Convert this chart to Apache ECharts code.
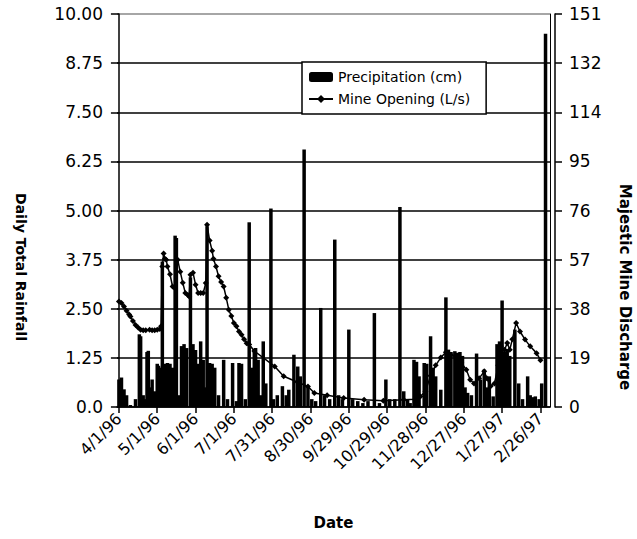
<!DOCTYPE html>
<html>
<head>
<meta charset="utf-8">
<script src="https://cdn.jsdelivr.net/npm/echarts@6/dist/echarts.min.js"></script>
<style>
html,body{margin:0;padding:0;background:#fff;}
#chart{width:637px;height:539px;}
</style>
</head>
<body>
<div id="chart"></div>
<script>
// ---- data ----
// x tick positions (days since 4/1/96) and labels
const xTickDays = [0, 30, 60, 90, 120, 150, 180, 210, 240, 270, 300, 330];
const xTickLabels = ['4/1/96', '5/1/96', '6/1/96', '7/1/96', '7/31/96', '8/30/96', '9/29/96', '10/29/96', '11/28/96', '12/27/96', '1/27/97', '2/26/97'];
const leftTickLabels = ['0.0', '1.25', '2.50', '3.75', '5.00', '6.25', '7.50', '8.75', '10.00'];
const rightTickLabels = ['0', '19', '38', '57', '76', '95', '114', '132', '151'];

// Daily precipitation (cm)
const rainDay = [0, 2, 4, 6, 9, 13, 16, 17, 19, 21, 22, 23, 25, 26, 28, 30, 31, 33, 34, 36, 37, 38, 40, 42, 44, 45, 47, 49, 51, 53, 56, 58, 60, 62, 64, 66, 68, 69, 71, 73, 75, 78, 82, 85, 89, 92, 94, 96, 99, 102, 104, 106, 107, 109, 111, 113, 115, 119, 121, 124, 128, 131, 133, 137, 140, 142, 145, 148, 151, 154, 158, 161, 165, 169, 172, 175, 180, 183, 187, 191, 195, 200, 204, 209, 212, 216, 220, 223, 226, 228, 231, 233, 235, 239, 241, 244, 246, 248, 252, 256, 258, 260, 263, 265, 267, 269, 271, 273, 276, 280, 283, 286, 288, 290, 293, 296, 298, 300, 302, 304, 306, 310, 313, 316, 320, 322, 324, 326, 329, 331, 334];
const rainCm = [0.7, 0.75, 0.45, 0.3, 0.05, 0.2, 1.85, 1.8, 0.3, 0.2, 1.4, 1.43, 0.5, 0.7, 0.4, 1.1, 1.05, 1.0, 3.7, 1.1, 1.05, 1.12, 1.1, 1.0, 4.36, 4.3, 0.3, 1.55, 1.6, 1.5, 3.3, 1.6, 1.45, 1.1, 1.67, 1.2, 0.5, 4.6, 1.12, 1.1, 1.0, 0.3, 1.2, 0.2, 1.12, 0.15, 1.12, 1.1, 0.2, 4.7, 1.0, 1.46, 1.5, 1.2, 0.3, 1.67, 0.6, 5.05, 0.2, 0.3, 0.53, 0.3, 0.44, 1.33, 1.03, 0.78, 6.55, 0.52, 0.2, 0.15, 2.52, 0.3, 0.2, 4.26, 0.3, 0.2, 1.97, 0.2, 0.15, 0.1, 0.15, 2.39, 0.1, 0.7, 0.2, 0.2, 5.09, 0.4, 0.2, 0.1, 1.2, 1.15, 0.78, 1.12, 1.1, 1.8, 1.0, 0.78, 0.44, 2.79, 1.46, 1.4, 1.42, 1.38, 1.4, 1.3, 0.5, 0.36, 0.3, 1.36, 0.7, 0.95, 0.5, 0.78, 0.27, 1.6, 1.67, 2.71, 1.4, 1.46, 1.3, 1.97, 0.6, 0.2, 0.78, 0.3, 0.25, 0.27, 0.2, 0.6, 9.5];

// Mine opening discharge (L/s)
const flowDay = [0, 2, 4, 6, 8, 9, 11, 13, 15, 17, 19, 21, 24, 26, 28, 30, 32, 33, 34, 35, 36, 37, 38, 40, 42, 44, 46, 48, 50, 52, 54, 55, 56, 58, 60, 62, 64, 66, 68, 69, 71, 73, 74, 76, 78, 80, 82, 84, 86, 88, 90, 92, 94, 96, 98, 100, 102, 106, 122, 129, 140, 148, 153, 163, 176, 192, 207, 223, 232, 236, 240, 244, 248, 252, 256, 260, 264, 268, 272, 275, 278, 282, 286, 288, 291, 294, 297, 299, 302, 304, 306, 308, 311, 314, 318, 322, 327, 330];
const flowLs = [40.5, 40, 38.6, 37, 35.5, 34.8, 33, 31.5, 30.5, 29.7, 29.5, 29.5, 29.7, 29.5, 29.5, 29.7, 30, 31, 54, 59, 57, 56.6, 54, 51, 46.3, 45.5, 56.6, 52, 47.7, 43.8, 43, 42.5, 50.8, 51.6, 47, 43.8, 43.8, 43.8, 47.6, 70, 64, 60, 57, 54, 50.2, 48, 46.3, 42, 37.4, 35, 32.3, 31, 29, 27.8, 26, 24.5, 24, 21.5, 15.6, 11.8, 9.5, 7.9, 5.4, 4.5, 3.5, 2.8, 2.4, 2.8, 3, 4, 6, 12, 16, 19, 21, 20, 19.4, 17, 14.3, 10.5, 9, 11, 13.7, 11, 8, 9, 16, 23.3, 22, 24.6, 22, 26, 32.3, 29, 25.9, 23.3, 20.7, 18];

// ---- chart ----
const FONT = 'DejaVu Sans';
const rainData = rainDay.map((d, i) => [d, rainCm[i]]);
const flowData = flowDay.map((d, i) => [d, flowLs[i]]);
const RIGHT_MAX = 151;
const RIGHT_STEP = RIGHT_MAX / 8;

const chart = echarts.init(document.getElementById('chart'), null, {renderer: 'svg'});
chart.setOption({
  animation: false,
  backgroundColor: '#fff',
  textStyle: {fontFamily: FONT, color: '#000'},
  grid: {left: 117, right: 87, top: 14, bottom: 132, show: false},
  legend: {
    left: 302, top: 62,
    orient: 'vertical',
    padding: [8, 16, 8, 6],
    itemGap: 8,
    itemWidth: 24, itemHeight: 10,
    backgroundColor: '#fff',
    borderColor: '#000', borderWidth: 1.5,
    textStyle: {fontFamily: FONT, fontSize: 14, color: '#000'},
    data: ['Precipitation (cm)', 'Mine Opening (L/s)']
  },
  xAxis: {
    type: 'value',
    min: -1.5, max: 337.5,
    name: 'Date', nameLocation: 'middle', nameGap: 108,
    nameTextStyle: {fontFamily: FONT, fontSize: 15, fontWeight: 'bold', color: '#000'},
    axisLine: {show: true, onZero: false, lineStyle: {color: '#000', width: 1.5}},
    axisTick: {show: true, length: 6, customValues: xTickDays, lineStyle: {color: '#000', width: 1.5}},
    axisLabel: {
      customValues: xTickDays, rotate: 45, margin: 9,
      fontFamily: FONT, fontSize: 16, color: '#000',
      formatter: v => xTickLabels[xTickDays.indexOf(Math.round(v))] || ''
    },
    splitLine: {show: false}
  },
  yAxis: [
    {
      type: 'value', min: 0, max: 10, interval: 1.25, position: 'left',
      axisLine: {show: true, lineStyle: {color: '#000', width: 1.5}},
      axisTick: {show: true, length: 8, lineStyle: {color: '#000', width: 1.5}},
      axisLabel: {margin: 14, fontFamily: FONT, fontSize: 17, color: '#000',
        formatter: v => leftTickLabels[Math.round(v / 1.25)]},
      splitLine: {show: true, lineStyle: {width: 1.5, color: ['#000', '#000', '#000', '#000', '#000', '#000', '#000', '#000', '#888']}}
    },
    {
      type: 'value', min: 0, max: RIGHT_MAX, interval: RIGHT_STEP, position: 'right', offset: 5,
      axisLine: {show: true, lineStyle: {color: '#000', width: 1.5}},
      axisTick: {show: true, length: 7, lineStyle: {color: '#000', width: 1.5}},
      axisLabel: {margin: 14, fontFamily: FONT, fontSize: 17, color: '#000',
        formatter: v => rightTickLabels[Math.round(v / RIGHT_STEP)]},
      splitLine: {show: false}
    },
    {
      type: 'value', min: 0, max: 10, position: 'right', offset: 0,
      axisLine: {show: true, lineStyle: {color: '#000', width: 1}},
      axisTick: {show: false}, axisLabel: {show: false}, splitLine: {show: false}
    }
  ],
  graphic: [
    {type: 'text', x: 21, y: 267, rotation: -Math.PI / 2,
      style: {text: 'Daily Total Rainfall', fontFamily: FONT, fontSize: 14, fontWeight: 'bold', fill: '#000', align: 'center', verticalAlign: 'middle'}},
    {type: 'text', x: 625, y: 287, rotation: -Math.PI / 2,
      style: {text: 'Majestic Mine Discharge', fontFamily: FONT, fontSize: 15, fontWeight: 'bold', fill: '#000', align: 'center', verticalAlign: 'middle'}}
  ],
  series: [
    {
      name: 'Precipitation (cm)', type: 'bar', yAxisIndex: 0,
      barWidth: 3.5,
      itemStyle: {color: '#000'},
      data: rainData
    },
    {
      name: 'Mine Opening (L/s)', type: 'line', yAxisIndex: 1,
      symbol: 'diamond', symbolSize: 6, showSymbol: true,
      lineStyle: {color: '#000', width: 1.5},
      itemStyle: {color: '#000'},
      data: flowData
    }
  ]
});
</script>
</body>
</html>
